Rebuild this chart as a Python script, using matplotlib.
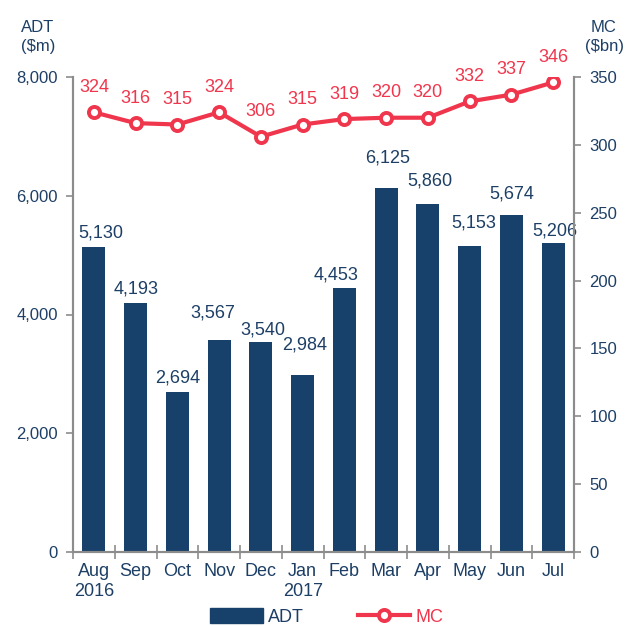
import matplotlib
matplotlib.use("Agg")
import matplotlib.pyplot as plt
import numpy as np
from matplotlib.lines import Line2D
from matplotlib.patches import Patch

plt.rcParams['font.family'] = ['Liberation Sans', 'DejaVu Sans']

months = ["Aug\n2016", "Sep", "Oct", "Nov", "Dec", "Jan\n2017", "Feb", "Mar", "Apr", "May", "Jun", "Jul"]
adt = [5130, 4193, 2694, 3567, 3540, 2984, 4453, 6125, 5860, 5153, 5674, 5206]
mc = [324, 316, 315, 324, 306, 315, 319, 320, 320, 332, 337, 346]
left_ticks = [0, 2000, 4000, 6000, 8000]
right_ticks = [0, 50, 100, 150, 200, 250, 300, 350]

# label nudges (pixels) for bar value labels
bar_lab_dy = [14, 14, 14, 27, 12, 30, 13, 30, 23, 23, 21, 12]
bar_lab_dx = [7, 0, 0, -6, 2, 2, -8, 1, 2, 4, 0, 2]

BLUE = "#17406A"
TXT = "#1D3F66"
RED = "#F0364C"
GRAY = "#8C8C8C"

fig = plt.figure(figsize=(6.26, 6.26), dpi=100)
ax = fig.add_axes([73/626, 74/626, 501/626, 475/626])
ax2 = ax.twinx()

x = np.arange(len(months))
ax.bar(x, adt, width=0.55, color=BLUE, zorder=2)
ax.set_xlim(-0.5, len(months) - 0.5)
ax.set_ylim(0, 8000)
ax2.set_ylim(0, 350)

pt = 72 / 100.0
for i, v in enumerate(adt):
    ax.annotate(f"{v:,}", (x[i], v), xytext=(bar_lab_dx[i] * pt, bar_lab_dy[i] * pt),
                textcoords="offset points", ha="center", va="center",
                fontsize=13, color=TXT)

ax2.plot(x, mc, color=RED, lw=3, marker="o", markersize=8,
         markerfacecolor="white", markeredgecolor=RED, markeredgewidth=2.8, zorder=3)
for i, v in enumerate(mc):
    ax2.annotate(f"{v}", (x[i], v), xytext=(0, 25 * pt), textcoords="offset points",
                 ha="center", va="center", fontsize=13, color=RED)

ax.set_yticks(left_ticks)
ax.set_yticklabels([f"{t:,}" for t in left_ticks])
ax2.set_yticks(right_ticks)
ax2.set_yticklabels([str(t) for t in right_ticks])

ax.set_xticks(x)
ax.set_xticklabels(months)
ax.set_xticks(np.arange(-0.5, len(months)), minor=True)
ax.tick_params(axis="x", which="major", length=0, pad=8, labelsize=13, labelcolor=TXT)
ax.tick_params(axis="x", which="minor", direction="inout", length=10, width=1.2, color=GRAY)
ax.tick_params(axis="y", length=5, width=1.2, color=GRAY, pad=6, labelsize=12, labelcolor=TXT)
ax2.tick_params(axis="y", length=5, width=1.2, color=GRAY, pad=6, labelsize=12, labelcolor=TXT)

for a in (ax, ax2):
    a.spines["top"].set_visible(False)
    for s in ("left", "right", "bottom"):
        a.spines[s].set_color(GRAY)
        a.spines[s].set_linewidth(1.5)

fig.text(38/626, 1 - 37/626, "ADT\n($m)", ha="center", va="center", fontsize=12,
         color=TXT, linespacing=1.25)
fig.text(604/626, 1 - 37/626, "MC\n($bn)", ha="center", va="center", fontsize=12,
         color=TXT, linespacing=1.25)

handles = [Patch(facecolor=BLUE, edgecolor=BLUE),
           Line2D([0], [0], color=RED, lw=3, marker="o", markersize=8,
                  markerfacecolor="white", markeredgecolor=RED, markeredgewidth=2.8)]
leg = fig.legend(handles, ["ADT", "MC"], loc="center", bbox_to_anchor=(327/626, 9/626),
                 ncol=2, frameon=False, fontsize=13, handlelength=2.9, handleheight=0.9,
                 handletextpad=0.3, columnspacing=3.0, borderpad=0.0)
leg.get_texts()[0].set_color(TXT)
leg.get_texts()[1].set_color(RED)

fig.savefig("out.png", dpi=100)
